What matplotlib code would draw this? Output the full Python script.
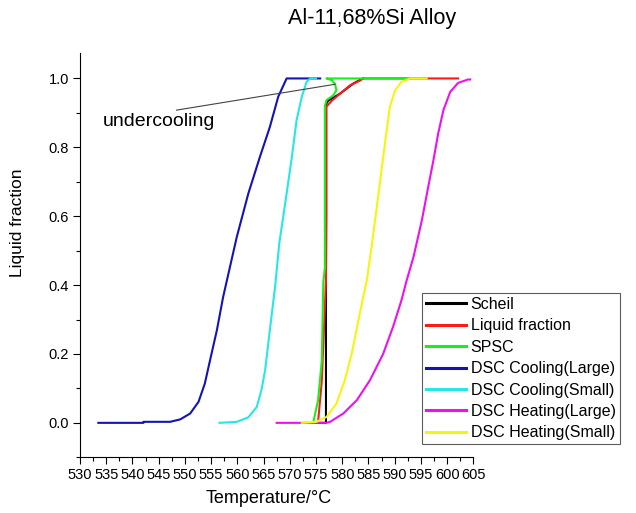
import matplotlib
matplotlib.use("Agg")
import matplotlib.pyplot as plt
from matplotlib.ticker import MultipleLocator

plt.rcParams["font.family"] = ["Liberation Sans", "DejaVu Sans"]

# values (temperature in degC, liquid fraction)
scheil_t = [575.1, 576.9, 576.9, 577.3, 579.5, 582.1, 583.7, 584.0]
scheil_f = [0.0, 0.0, 0.925, 0.935, 0.955, 0.985, 0.998, 1.0]

liquid_t = [575.0, 575.4, 576.1, 576.9, 577.0, 577.0, 578.0, 579.6, 581.5, 583.4, 584.0, 602.1]
liquid_f = [0.0, 0.003, 0.12, 0.41, 0.6, 0.918, 0.935, 0.956, 0.98, 0.994, 1.0, 1.0]

spsc_t = [574.3, 574.5, 575.4, 576.1, 576.4, 576.7, 576.7, 577.0, 578.3, 578.9, 578.6, 578.0, 577.0, 592.9]
spsc_f = [0.0, 0.003, 0.066, 0.18, 0.41, 0.45, 0.92, 0.937, 0.951, 0.966, 0.985, 0.995, 1.0, 1.0]

cool_large_t = [533.5, 542.1, 542.1, 547.2, 549.1, 551.0, 552.6, 553.8, 554.8, 556.1, 557.3,
                558.6, 559.9, 562.1, 564.3, 566.2, 567.8, 569.4, 575.8]
cool_large_f = [0.0, 0.0, 0.003, 0.003, 0.01, 0.027, 0.061, 0.114, 0.182, 0.269, 0.366,
                0.453, 0.540, 0.666, 0.772, 0.859, 0.947, 1.0, 1.0]

cool_small_t = [556.6, 559.9, 562.1, 563.7, 564.6, 565.3, 566.2, 567.2, 568.0, 569.4,
                570.4, 571.3, 572.3, 573.2, 573.9, 575.0]
cool_small_f = [0.0, 0.003, 0.016, 0.046, 0.095, 0.153, 0.269, 0.395, 0.521, 0.666,
                0.772, 0.879, 0.947, 0.99, 1.0, 1.0]

heat_large_t = [567.5, 576.9, 577.7, 580.2, 582.8, 585.3, 587.8, 589.7, 591.3, 592.3, 593.6,
                595.2, 596.4, 597.4, 598.3, 599.3, 600.6, 602.1, 604.0, 604.4]
heat_large_f = [0.0, 0.0, 0.003, 0.027, 0.066, 0.124, 0.2, 0.279, 0.356, 0.414, 0.482,
                0.589, 0.685, 0.763, 0.840, 0.908, 0.961, 0.987, 0.997, 0.997]

heat_small_t = [572.3, 575.1, 577.0, 578.9, 580.5, 581.8, 583.1, 584.0, 584.7, 585.6, 586.6,
                587.5, 588.4, 589.1, 590.1, 591.3, 592.9, 596.1]
heat_small_f = [0.0, 0.003, 0.017, 0.056, 0.124, 0.2, 0.298, 0.366, 0.414, 0.511, 0.627,
                0.734, 0.840, 0.918, 0.966, 0.99, 1.0, 1.0]

series = [
    ("Scheil", scheil_t, scheil_f, "#000000"),
    ("Liquid fraction", liquid_t, liquid_f, "#ff1a1a"),
    ("SPSC", spsc_t, spsc_f, "#1aef1a"),
    ("DSC Cooling(Large)", cool_large_t, cool_large_f, "#1414b4"),
    ("DSC Cooling(Small)", cool_small_t, cool_small_f, "#28e6e6"),
    ("DSC Heating(Large)", heat_large_t, heat_large_f, "#ee10ee"),
    ("DSC Heating(Small)", heat_small_t, heat_small_f, "#f5f510"),
]

fig = plt.figure(figsize=(6.36, 5.13), dpi=100)
ax = fig.add_axes([0.1258, 0.1086, 0.6184, 0.7875])

for label, t, f, color in series:
    ax.plot(t, f, color=color, lw=1.5, label=label)

# undercooling annotation
ax.plot([548.4, 578.6], [0.908, 0.983], color="#444444", lw=0.8)
ax.text(534.4, 0.862, "undercooling", fontsize=14, va="baseline", ha="left")

ax.set_xlim(530, 605)
ax.set_ylim(-0.1, 1.073)
ax.xaxis.set_major_locator(MultipleLocator(5))
ax.xaxis.set_minor_locator(MultipleLocator(2.5))
ax.yaxis.set_major_locator(MultipleLocator(0.2))
ax.yaxis.set_minor_locator(MultipleLocator(0.1))
ax.yaxis.set_major_formatter(plt.FuncFormatter(lambda v, p: f"{v:.1f}"))
ax.tick_params(which="major", length=5, width=0.8, labelsize=10.5, pad=3)
ax.tick_params(which="minor", length=3, width=0.8)

for side in ("top", "right"):
    ax.spines[side].set_visible(False)
for side in ("left", "bottom"):
    ax.spines[side].set_linewidth(0.8)

ax.set_xlabel("Temperature/°C", fontsize=13)
ax.xaxis.set_label_coords(0.48, -0.08)
ax.set_ylabel("Liquid fraction", fontsize=12.5)
ax.yaxis.set_label_coords(-0.14, 0.58)

fig.text(0.585, 0.963, "Al-11,68%Si Alloy", fontsize=15.5, ha="center", va="center")

leg = ax.legend(
    loc="upper left",
    bbox_to_anchor=(422 / 636, 1 - 293 / 513),
    bbox_transform=fig.transFigure,
    fontsize=11.5,
    frameon=True,
    fancybox=False,
    edgecolor="#333333",
    handlelength=2.5,
    handletextpad=0.3,
    labelspacing=0.4,
    borderpad=0.25,
    borderaxespad=0,
)
leg.get_frame().set_linewidth(0.8)
for line in leg.get_lines():
    line.set_linewidth(2.2)

fig.savefig("out.png", dpi=100, facecolor="white")
